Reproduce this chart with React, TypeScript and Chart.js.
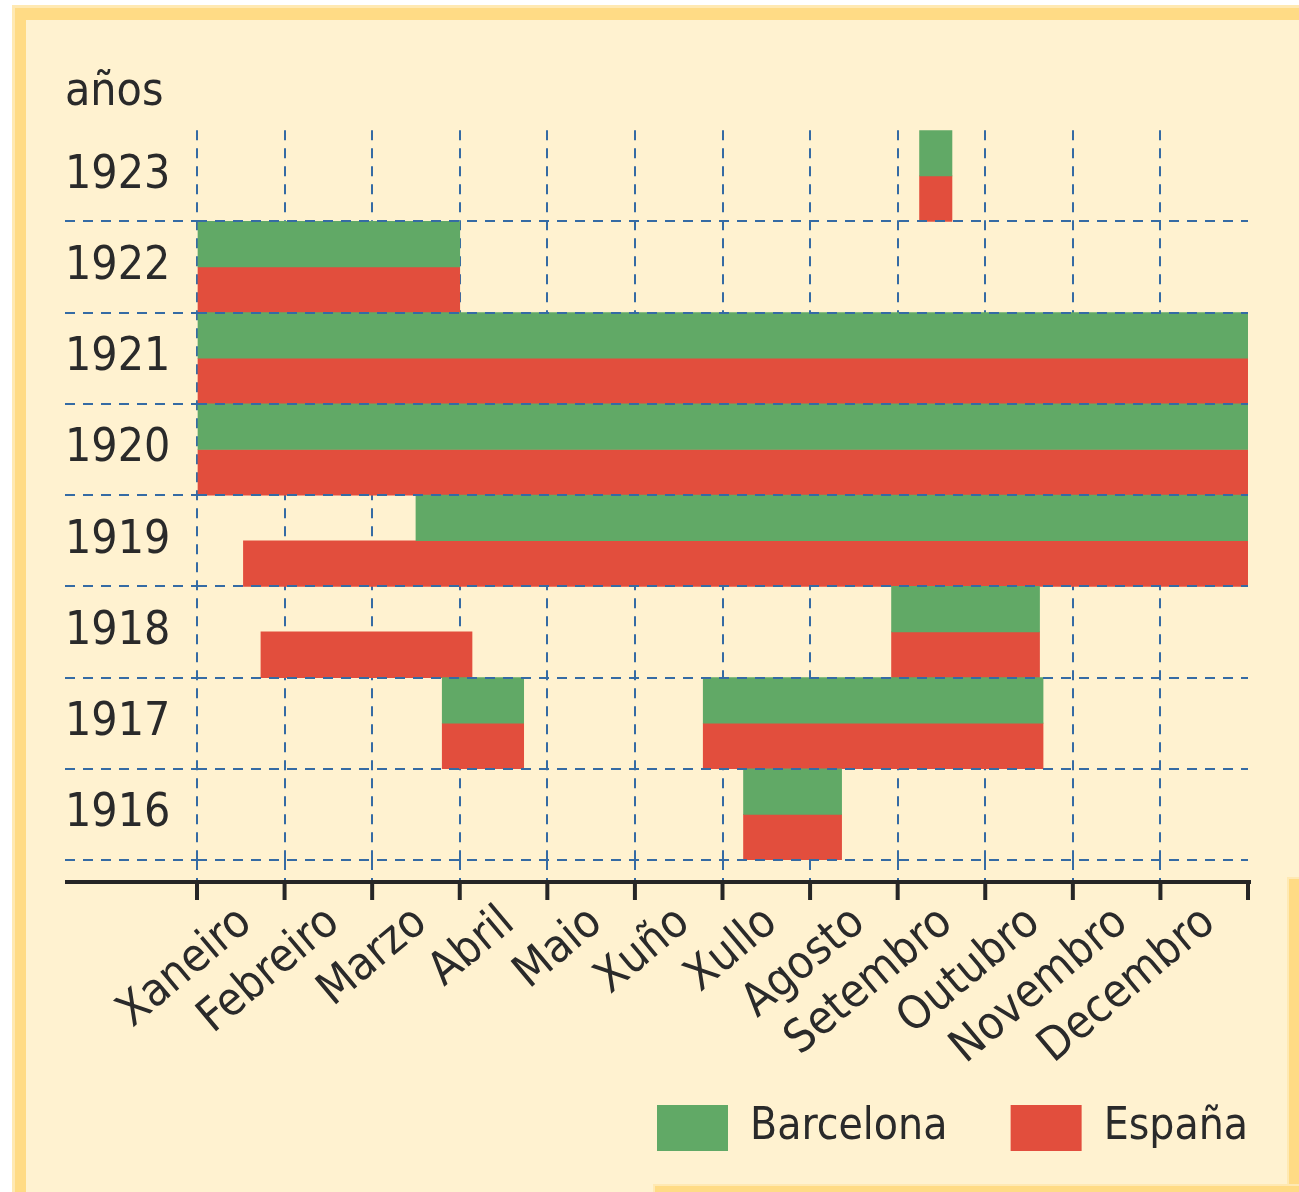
import React, { useEffect, useRef } from 'react';
import { Chart, registerables } from 'chart.js';

Chart.register(...registerables);

const FONT = "'DejaVu Sans Condensed', 'DejaVu Sans', sans-serif";
const TEXT = '#2a2a2a';
const BLUE = '#356ba4';
const GREEN = '#61a966';
const RED = '#e24e3d';

const years = ['1923', '1922', '1921', '1920', '1919', '1918', '1917', '1916'];
const months = ['Xaneiro', 'Febreiro', 'Marzo', 'Abril', 'Maio', 'Xuño', 'Xullo', 'Agosto', 'Setembro', 'Outubro', 'Novembro', 'Decembro'];

const barcelonaYears = ['1923', '1922', '1921', '1920', '1919', '1918', '1917', '1917', '1916'];
const barcelonaStart = [8.25, 0, 0, 0, 2.5, 7.93, 2.8, 5.78, 6.24];
const barcelonaEnd = [8.62, 3, 12, 12, 12, 9.62, 3.73, 9.66, 7.36];

const espanaYears = ['1923', '1922', '1921', '1920', '1919', '1918', '1918', '1917', '1917', '1916'];
const espanaStart = [8.25, 0, 0, 0, 0.53, 0.73, 7.93, 2.8, 5.78, 6.24];
const espanaEnd = [8.62, 3, 12, 12, 12, 3.14, 9.62, 3.73, 9.66, 7.36];

const spans = (ys: string[], s: number[], e: number[]) => ys.map((y, i) => ({ y, x: [s[i], e[i]] }));

const LABEL_SIZE = 46;
const YEAR_SIZE = 46;
const LEGEND_SIZE = 44;
const BOX_W = 71;
const BOX_H = 46;

export default function App() {
  const ref = useRef<HTMLCanvasElement>(null);

  useEffect(() => {
    const canvas = ref.current;
    if (!canvas) return;

    // legend spacing so that the legend spans from x=657 to x=1248
    const mctx = document.createElement('canvas').getContext('2d') as CanvasRenderingContext2D;
    mctx.font = `normal ${LEGEND_SIZE}px ${FONT}`;
    const wB = mctx.measureText('Barcelona').width;
    const wE = mctx.measureText('España').width;
    const span = 1248 - 657;
    const itemB = BOX_W + LEGEND_SIZE / 2 + wB;
    const itemE = BOX_W + LEGEND_SIZE / 2 + wE;
    const legPad = Math.max(10, span - itemB - itemE);
    const padRight = 1299 - 1248 - legPad;
    const itemHeight = Math.max(LEGEND_SIZE, BOX_H);
    const legendTop = 1105 - legPad - Math.max((LEGEND_SIZE - BOX_H) / 2, 0);
    const padBottom = 1192 - legendTop - (itemHeight + legPad + 10);
    const xHeight = legendTop - 860;

    const axisPlugin = {
      id: 'axisLine',
      afterDraw(chart: any) {
        const { ctx, chartArea, scales } = chart;
        const xs = scales.x;
        const ys = scales.y;
        const y = chartArea.bottom + 22;
        ctx.save();
        ctx.strokeStyle = '#262626';
        ctx.lineWidth = 4;
        ctx.beginPath();
        ctx.moveTo(ys.left, y);
        ctx.lineTo(xs.getPixelForValue(12) + 3, y);
        ctx.stroke();
        for (let v = 0; v <= 12; v++) {
          const px = xs.getPixelForValue(v);
          ctx.beginPath();
          ctx.moveTo(px, y);
          ctx.lineTo(px, y + 18);
          ctx.stroke();
        }
        ctx.restore();
      },
    };

    const xGridColor = (c: any) => (c.tick && c.tick.value === 12 ? 'rgba(0,0,0,0)' : BLUE);
    const yGridColor = (c: any) => (c.index === 0 ? 'rgba(0,0,0,0)' : BLUE);

    const chart = new Chart(canvas, {
      type: 'bar',
      data: {
        labels: years,
        datasets: [
          {
            label: 'Barcelona',
            data: spans(barcelonaYears, barcelonaStart, barcelonaEnd) as any,
            backgroundColor: GREEN,
            borderWidth: 0,
            categoryPercentage: 1,
            barPercentage: 1,
          },
          {
            label: 'España',
            data: spans(espanaYears, espanaStart, espanaEnd) as any,
            backgroundColor: RED,
            borderWidth: 0,
            categoryPercentage: 1,
            barPercentage: 1,
          },
        ],
      },
      options: {
        indexAxis: 'y',
        animation: false,
        responsive: false,
        devicePixelRatio: 1,
        events: [],
        layout: { padding: { top: 20, left: 65, right: padRight, bottom: padBottom } },
        scales: {
          x: {
            type: 'linear',
            position: 'bottom',
            min: 0,
            max: 12,
            grid: {
              color: xGridColor,
              tickColor: xGridColor,
              lineWidth: 2,
              tickWidth: 2,
              tickLength: 22,
              tickBorderDash: [10, 8],
            },
            border: { display: false, dash: [10, 8] },
            ticks: {
              stepSize: 1,
              autoSkip: false,
              minRotation: 40,
              maxRotation: 40,
              labelOffset: 49,
              padding: 14,
              color: TEXT,
              font: { family: FONT, size: LABEL_SIZE },
              callback: (v: any) => months[v] ?? '',
            },
            afterFit: (s: any) => {
              s.height = xHeight;
              s._computeLabelArea = () => undefined;
            },
          },
          y: {
            type: 'category',
            position: 'left',
            grid: {
              color: yGridColor,
              tickColor: yGridColor,
              lineWidth: 2,
              tickWidth: 2,
              tickLength: 132,
              tickBorderDash: [10, 8],
              z: 1,
            },
            border: { display: false, dash: [10, 8] },
            ticks: {
              autoSkip: false,
              crossAlign: 'far',
              color: TEXT,
              font: { family: FONT, size: YEAR_SIZE },
            },
            afterFit: (s: any) => {
              s.width = 132;
            },
          },
          yr: {
            type: 'linear',
            position: 'right',
            display: true,
            grid: { display: false },
            ticks: { display: false },
            border: { display: false },
            afterFit: (s: any) => {
              s.width = legPad;
            },
          },
        },
        plugins: {
          tooltip: { enabled: false },
          title: {
            display: true,
            text: 'años',
            align: 'start',
            color: TEXT,
            font: { family: FONT, size: 46, weight: 'normal' },
            padding: { top: 45, bottom: 10 },
          },
          legend: {
            display: true,
            position: 'bottom',
            align: 'end',
            labels: {
              boxWidth: BOX_W,
              boxHeight: BOX_H,
              padding: legPad,
              color: TEXT,
              font: { family: FONT, size: LEGEND_SIZE },
            },
          },
        },
      } as any,
      plugins: [axisPlugin],
    });

    return () => chart.destroy();
  }, []);

  return (
    <div style={{ position: 'fixed', left: 0, top: 0, width: 1299, height: 1192, background: '#ffffff', overflow: 'hidden' }}>
      <div style={{ position: 'absolute', left: 12, top: 5, right: 0, bottom: 0, background: '#ffe9b3' }} />
      <div style={{ position: 'absolute', left: 15, top: 8, right: 0, bottom: 0, background: '#ffdb85' }} />
      <div style={{ position: 'absolute', left: 26, top: 20, right: 0, bottom: 0, background: '#fff2d0' }} />
      <div style={{ position: 'absolute', left: 1287, top: 877, width: 12, bottom: 0, background: '#ffe9b3' }} />
      <div style={{ position: 'absolute', left: 1289, top: 879, width: 10, bottom: 0, background: '#ffdb85' }} />
      <div style={{ position: 'absolute', left: 653, top: 1184, right: 0, bottom: 0, background: '#ffe9b3' }} />
      <div style={{ position: 'absolute', left: 655, top: 1186, right: 0, bottom: 0, background: '#ffdb85' }} />
      <canvas ref={ref} width={1299} height={1192} style={{ position: 'absolute', left: 0, top: 0, width: 1299, height: 1192 }} />
    </div>
  );
}
